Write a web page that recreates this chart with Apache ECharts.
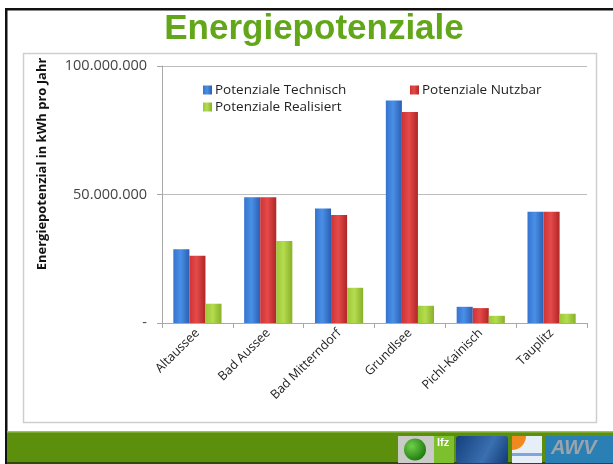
<!DOCTYPE html>
<html><head><meta charset="utf-8">
<script src="https://cdn.jsdelivr.net/npm/echarts@6/dist/echarts.min.js"></script>
<style>html,body{margin:0;padding:0;background:#fff}#c{width:613px;height:464px}</style>
</head><body><div id="c"></div>
<script>
const categories = ['Altaussee','Bad Aussee','Bad Mitterndorf','Grundlsee','Pichl-Kainisch','Tauplitz'];
const technisch = [28700000, 48900000, 44600000, 86600000, 6300000, 43300000];
const nutzbar   = [26200000, 48900000, 42000000, 82100000, 5800000, 43300000];
const realisiert= [7500000, 31900000, 13700000, 6700000, 2800000, 3600000];
const yTicks = [0, 50000000, 100000000];

function grad(a,b,c){return new echarts.graphic.LinearGradient(0,0,1,0,[{offset:0,color:a},{offset:0.45,color:b},{offset:1,color:c}]);}
const blue = grad('#3573cf','#4a90e6','#2a5fb3');
const red  = grad('#cf3434','#e54a4a','#b02626');
const green= grad('#9cc838','#b4dc4e','#88b02a');

function fmt(v){ if(v===0) return '-'; return String(v).replace(/\B(?=(\d{3})+(?!\d))/g,'.'); }

const chart = echarts.init(document.getElementById('c'));
const font = "'Open Sans', sans-serif";
const legendText = {fontFamily:font,fontSize:13.5,color:'#222',padding:[0,0,0,-2]};
chart.setOption({
  animation:false,
  backgroundColor:'#fff',
  graphic:[
    {type:'rect', z:-10, shape:{x:23.5,y:53.5,width:573,height:369}, style:{fill:'#fff',stroke:'#cfcfcf',lineWidth:1.5}},
    {type:'rect', z:-5, shape:{x:5,y:8,width:608,height:2.5}, style:{fill:'#111'}},
    {type:'rect', z:-5, shape:{x:5,y:8,width:2.5,height:456}, style:{fill:'#111'}},
    {type:'rect', z:-5, shape:{x:7,y:432,width:606,height:30}, style:{fill:'#5c8f0b'}},
    {type:'rect', z:-5, shape:{x:7,y:431,width:606,height:1.5}, style:{fill:'#9cc35a'}},
    {type:'rect', z:-5, shape:{x:7,y:462,width:606,height:2}, style:{fill:'#2f4a08'}},
    // logos
    {type:'rect', z:-4, shape:{x:398,y:436,width:36,height:27}, style:{fill:'#c9cbc6'}},
    {type:'circle', z:-3, shape:{cx:415,cy:449.5,r:11}, style:{fill:new echarts.graphic.RadialGradient(0.35,0.35,0.7,[{offset:0,color:'#6fd04a'},{offset:1,color:'#1f7a10'}])}},
    {type:'rect', z:-4, shape:{x:434,y:436,width:20,height:27}, style:{fill:'#7dbf2c'}},
    {type:'text', z:-3, style:{x:437,y:437,text:'lfz',fill:'#fff',font:"bold 11px 'Liberation Sans'"}},
    {type:'rect', z:-4, shape:{x:456,y:436,width:52,height:27,r:3}, style:{fill:new echarts.graphic.LinearGradient(0,0,1,1,[{offset:0,color:'#16407e'},{offset:0.6,color:'#3a6fb0'},{offset:1,color:'#123a76'}])}},
    {type:'rect', z:-4, shape:{x:512,y:436,width:30,height:27}, style:{fill:'#e6eef8'}},
    {type:'sector', z:-3, shape:{cx:512,cy:436,r:14,r0:0,startAngle:0,endAngle:Math.PI/2}, style:{fill:'#f08a20'}},
    {type:'rect', z:-3, shape:{x:512,y:453,width:30,height:3}, style:{fill:'#7fa6d9'}},
    {type:'rect', z:-4, shape:{x:545,y:436,width:68,height:27}, style:{fill:'#2a7fb4'}},
    {type:'text', z:-3, style:{x:551,y:438,text:'AWV',fill:'#9aa4ad',font:"italic bold 20px 'Liberation Sans'"}},
    // title
    {type:'text', z:5, style:{x:314,y:12,text:'Energiepotenziale',textAlign:'center',fill:'#62a619',font:"bold 35px 'Liberation Sans', Arial, sans-serif",shadowColor:'rgba(0,0,0,0.4)',shadowBlur:2,shadowOffsetX:1,shadowOffsetY:1}},
    // y axis name
    {type:'text', z:5, x:42, y:164, rotation:Math.PI/2, style:{x:0,y:0,text:'Energiepotenzial in kWh pro Jahr',textAlign:'center',textVerticalAlign:'middle',fill:'#111',font:"bold 13px 'Open Sans', sans-serif"}}
  ],
  legend:[
    {data:['Potenziale Technisch'], left:198, top:78, icon:'rect', itemWidth:9, itemHeight:9, textStyle:legendText},
    {data:['Potenziale Nutzbar'], left:405, top:78, icon:'rect', itemWidth:9, itemHeight:9, textStyle:legendText},
    {data:['Potenziale Realisiert'], left:198, top:95, icon:'rect', itemWidth:9, itemHeight:9, textStyle:legendText}
  ],
  grid:{left:162, right:26, top:66, bottom:141, containLabel:false},
  xAxis:{type:'category', data:categories,
    axisLine:{lineStyle:{color:'#a8a8a8'}},
    axisTick:{show:true,length:5,lineStyle:{color:'#a8a8a8'}},
    axisLabel:{rotate:45, color:'#222', fontFamily:font, fontSize:12.5, margin:8}},
  yAxis:{type:'value', min:0, max:100000000, interval:50000000,
    axisLine:{show:true,lineStyle:{color:'#a8a8a8'}},
    axisTick:{show:true,length:5,lineStyle:{color:'#a8a8a8'}},
    splitLine:{lineStyle:{color:'#bdbdbd'}},
    axisLabel:{formatter:fmt, color:'#444', fontFamily:font, fontSize:14.5, margin:15,
      customValues: yTicks}},
  series:[
    {name:'Potenziale Technisch', type:'bar', data:technisch, barGap:'0%', barCategoryGap:'32%', itemStyle:{color:blue}},
    {name:'Potenziale Nutzbar', type:'bar', data:nutzbar, itemStyle:{color:red}},
    {name:'Potenziale Realisiert', type:'bar', data:realisiert, itemStyle:{color:green}}
  ]
});
</script></body></html>
